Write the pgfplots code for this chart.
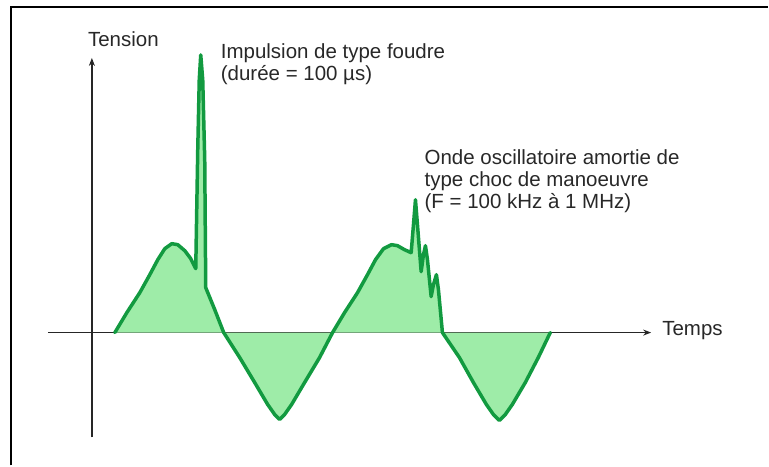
\documentclass[border=0pt]{standalone}
\usepackage{pgfplots}
\pgfplotsset{compat=1.18}
\usepackage{fontspec}
\setmainfont{Liberation Sans}
\usetikzlibrary{arrows.meta}
\definecolor{fillgreen}{RGB}{158,236,168}
\definecolor{linegreen}{RGB}{18,154,64}
\definecolor{txt}{RGB}{40,40,40}
\begin{document}
\begin{tikzpicture}
\begin{axis}[
  x=1pt, y=1pt,
  xmin=-44, xmax=560, ymin=-105, ymax=275,
  axis lines=middle,
  enlargelimits=false,
  ticks=none,
  clip=false,
  axis line style={line width=1.3pt, color=black!85},
  x axis line style={-{Stealth[length=8pt,width=6pt]}},
  y axis line style={-{Stealth[length=8pt,width=6pt]}},
]
\addplot[fill=fillgreen, draw=none] coordinates {
(23,0) (35,20) (48,40) (58,58) (66,73) (73,84) (80,89) (86,88) (93,82) (99,74) (104,64)
(106,183) (107.5,253) (109,278) (111,253) (113,173) (114,45)
(123,23) (132,0) (148,-25) (163,-50) (176,-72) (183,-82) (188,-87) (193,-82) (200,-72) (213,-50) (228,-25) (241,0)
(253,20) (266,40) (276,58) (284,73) (292,84) (300,88) (306,87) (313,83) (319.7,80)
(322,108) (324,133) (326,108) (329.7,61) (332,78) (334,87) (336,73) (339.7,36) (342,48) (345,58) (347,43) (351,0)
(368,-25) (382,-50) (395,-72) (402,-82) (408,-88) (414,-82) (421,-72) (434,-50) (447,-25) (459,0)
} \closedcycle;
\addplot[color=linegreen, line width=3.5pt, line join=round, line cap=round] coordinates {
(23,0) (35,20) (48,40) (58,58) (66,73) (73,84) (80,89) (86,88) (93,82) (99,74) (104,64)
(106,183) (107.5,253) (109,278) (111,253) (113,173) (114,45)
(123,23) (132,0) (148,-25) (163,-50) (176,-72) (183,-82) (188,-87) (193,-82) (200,-72) (213,-50) (228,-25) (241,0)
(253,20) (266,40) (276,58) (284,73) (292,84) (300,88) (306,87) (313,83) (319.7,80)
(322,108) (324,133) (326,108) (329.7,61) (332,78) (334,87) (336,73) (339.7,36) (342,48) (345,58) (347,43) (351,0)
(368,-25) (382,-50) (395,-72) (402,-82) (408,-88) (414,-82) (421,-72) (434,-50) (447,-25) (459,0)
};
\node[anchor=base west, inner sep=0pt, text=txt, font=\fontsize{20.5}{23}\selectfont] at (axis cs:-4,286) {Tension};
\node[anchor=base west, inner sep=0pt, text=txt, font=\fontsize{20.5}{23}\selectfont] at (axis cs:571,-3) {Temps};
\node[anchor=base west, inner sep=0pt, text=txt, font=\fontsize{20.5}{23}\selectfont] at (axis cs:129,274) {Impulsion de type foudre};
\node[anchor=base west, inner sep=0pt, text=txt, font=\fontsize{20.5}{23}\selectfont] at (axis cs:129,252) {(durée = 100 µs)};
\node[anchor=base west, inner sep=0pt, text=txt, font=\fontsize{20.5}{23}\selectfont] at (axis cs:333,168) {Onde oscillatoire amortie de};
\node[anchor=base west, inner sep=0pt, text=txt, font=\fontsize{20.5}{23}\selectfont] at (axis cs:333,146) {type choc de manoeuvre};
\node[anchor=base west, inner sep=0pt, text=txt, font=\fontsize{20.5}{23}\selectfont] at (axis cs:333,124) {(F = 100 kHz à 1 MHz)};
\draw[line width=2pt, black] (axis cs:-81,-133) -- (axis cs:-81,326) -- (axis cs:677,326);
\path (axis cs:-92,-133) rectangle (axis cs:677,333);
\end{axis}
\end{tikzpicture}
\end{document}
